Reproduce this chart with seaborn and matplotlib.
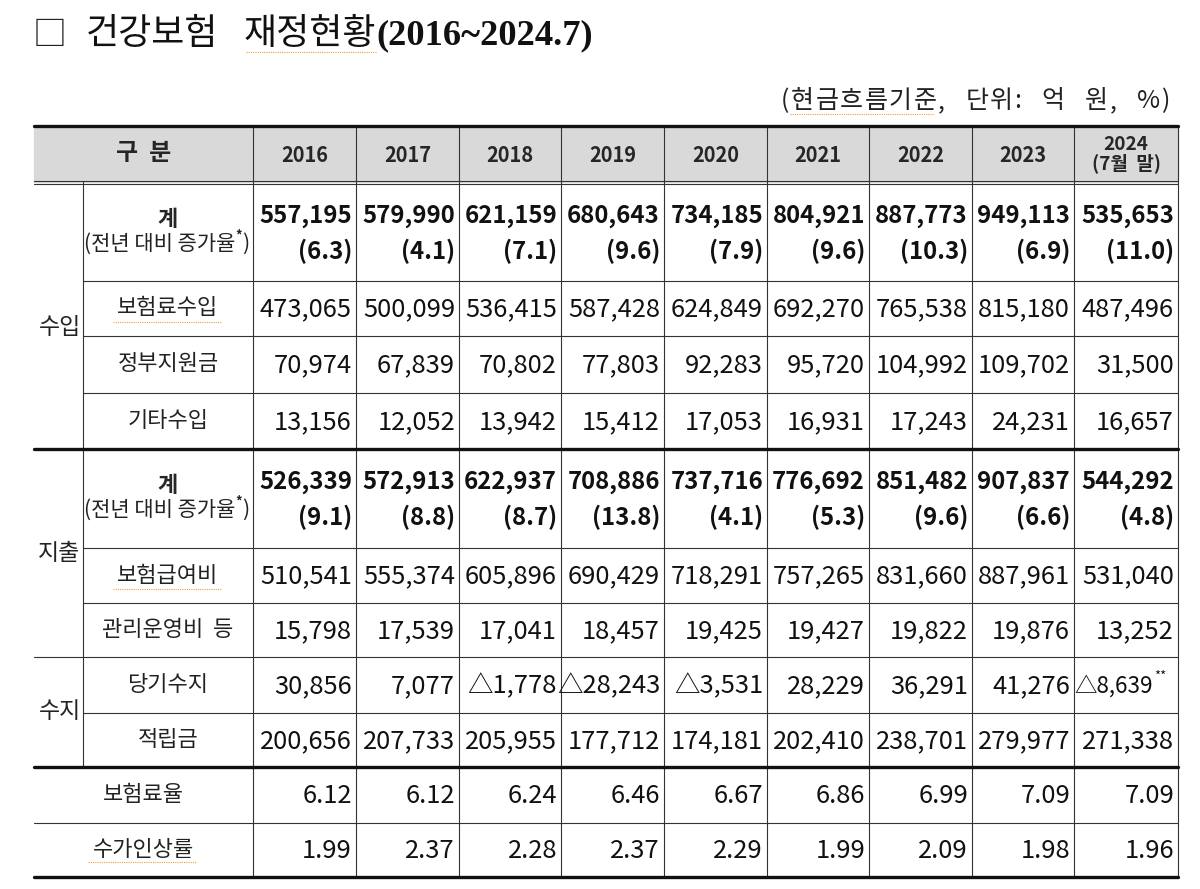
import matplotlib
matplotlib.use("Agg")
import matplotlib.pyplot as plt
import seaborn as sns

# ---- data (억 원, %) ----
years = ["2016", "2017", "2018", "2019", "2020", "2021", "2022", "2023", "2024\n(7월  말)"]
revenue_total = [557195, 579990, 621159, 680643, 734185, 804921, 887773, 949113, 535653]
revenue_growth = [6.3, 4.1, 7.1, 9.6, 7.9, 9.6, 10.3, 6.9, 11.0]
premium_income = [473065, 500099, 536415, 587428, 624849, 692270, 765538, 815180, 487496]
gov_support = [70974, 67839, 70802, 77803, 92283, 95720, 104992, 109702, 31500]
other_income = [13156, 12052, 13942, 15412, 17053, 16931, 17243, 24231, 16657]
expense_total = [526339, 572913, 622937, 708886, 737716, 776692, 851482, 907837, 544292]
expense_growth = [9.1, 8.8, 8.7, 13.8, 4.1, 5.3, 9.6, 6.6, 4.8]
benefits = [510541, 555374, 605896, 690429, 718291, 757265, 831660, 887961, 531040]
admin_costs = [15798, 17539, 17041, 18457, 19425, 19427, 19822, 19876, 13252]
balance = [30856, 7077, -1778, -28243, -3531, 28229, 36291, 41276, -8639]
reserves = [200656, 207733, 205955, 177712, 174181, 202410, 238701, 279977, 271338]
premium_rate = [6.12, 6.12, 6.24, 6.46, 6.67, 6.86, 6.99, 7.09, 7.09]
fee_increase = [1.99, 2.37, 2.28, 2.37, 2.29, 1.99, 2.09, 1.98, 1.96]

sns.set_theme(style="white")
plt.rcParams["font.family"] = ["Noto Sans CJK KR", "DejaVu Sans"]


def pt(px):
    return px * 72 / 100


def fmt_amount(v):
    if v < 0:
        return "△" + f"{-v:,}"
    return f"{v:,}"


fig = plt.figure(figsize=(12, 8.89), dpi=100)
ax = fig.add_axes([0, 0, 1, 1])
ax.set_xlim(0, 1200)
ax.set_ylim(889, 0)
ax.axis("off")
renderer = fig.canvas.get_renderer()


def put(x, y, s, **kw):
    """Draw text and return its right edge in data coords."""
    t = ax.text(x, y, s, **kw)
    bb = t.get_window_extent(renderer)
    return ax.transData.inverted().transform((bb.x1, bb.y0))[0]


def put_spaced(x, y, s, track, **kw):
    """Left-aligned text with extra letter spacing, returns right edge."""
    for ch in s:
        if ch == " ":
            x += 8 + track
            continue
        x = put(x, y, ch, ha="left", **kw) + track
    return x


# layout (pixels)
left, group_x, label_x, right = 34, 83, 253, 1178
col_edges = [253, 356, 459, 561, 664, 767, 869, 972, 1074, 1178]
top, head_bot = 126, 182
line_col = "#333333"
spell = dict(color="#f0a040", lw=0.8, ls=(0, (1, 1)))

# title
put(33, 35, "□", fontsize=pt(34), va="center", ha="left", color="#222222")
put(86, 34, "건강보험", fontsize=pt(36), va="center", ha="left", color="#111111")
x_end = put(244, 34, "재정현황", fontsize=pt(36), va="center", ha="left", color="#111111")
ax.plot([246, x_end], [52, 52], **spell)
put(x_end, 36, "(2016~2024.7)", fontsize=pt(36.5), va="center", ha="left",
    family=["Liberation Serif", "DejaVu Serif"], weight="bold", color="#111111")

# unit note
note_end = put_spaced(781, 101, "(현금흐름기준", 1.5, fontsize=pt(25), va="center",
                      color="#222222")
ax.plot([790, note_end - 4], [114, 114], **spell)
put_spaced(note_end, 101, ",  단위:  억  원,  %)", 1.5, fontsize=pt(25), va="center",
           color="#222222")

# header band
ax.fill_between([left, right], top, head_bot, color="#d9d9d9", zorder=0)
ax.text((left + label_x) / 2, 153, "구  분", fontsize=pt(24), weight="bold",
        ha="center", va="center")
for i, y in enumerate(years):
    cx = (col_edges[i] + col_edges[i + 1]) / 2
    if "\n" in y:
        ax.text(cx, 154, y, fontsize=pt(19), weight="bold", ha="center", va="center",
                linespacing=0.95)
    else:
        ax.text(cx, 155, y, fontsize=pt(20), weight="bold", ha="center", va="center")

# rows: (label, values, top, bottom, growth)
rows = [
    ("계", revenue_total, 183, 281, revenue_growth),
    ("보험료수입", premium_income, 281, 336, None),
    ("정부지원금", gov_support, 336, 393, None),
    ("기타수입", other_income, 393, 449, None),
    ("계", expense_total, 449, 548, expense_growth),
    ("보험급여비", benefits, 548, 603, None),
    ("관리운영비  등", admin_costs, 603, 657, None),
    ("당기수지", balance, 657, 713, None),
    ("적립금", reserves, 713, 767, None),
]
bottom_rows = [
    ("보험료율", premium_rate, 767, 823),
    ("수가인상률", fee_increase, 823, 877),
]

txt = "#111111"
lab = "#222222"
num_px = 25.5
for label, vals, y0, y1, growth in rows:
    lx = (group_x + label_x) / 2
    if growth is not None:
        ax.text(lx, y0 + 37, "계", fontsize=pt(22), ha="center", va="center", weight="bold")
        xe = put(84, y0 + 61, "(전년 대비 증가율", fontsize=pt(21), ha="left",
                 va="center", color=lab)
        xe = put(xe, y0 + 53, "*", fontsize=pt(13), ha="left", va="center", color=lab,
                 weight="bold")
        put(xe, y0 + 61, ")", fontsize=pt(21), ha="left", va="center", color=lab)
        for i, v in enumerate(vals):
            rx = col_edges[i + 1] - 4
            ax.text(rx, y0 + 33, fmt_amount(v), fontsize=pt(24), weight="bold",
                    ha="right", va="center", color=txt)
            ax.text(rx, y0 + 68, f"({growth[i]:.1f})", fontsize=pt(24), weight="bold",
                    ha="right", va="center", color=txt)
    else:
        cy = (y0 + y1) / 2
        ax.text(lx, cy, label, fontsize=pt(22), ha="center", va="center", color=lab)
        for i, v in enumerate(vals):
            rx = col_edges[i + 1] - 4
            s = fmt_amount(v)
            size = pt(num_px)
            if i == len(vals) - 1 and v < 0:
                rx -= 21
                size = pt(22.5)
                ax.text(rx + 1, cy - 9, "**", fontsize=pt(13), ha="left", va="center",
                        color=txt)
            ax.text(rx, cy + 1, s, fontsize=size, ha="right", va="center", color=txt)

for label, vals, y0, y1 in bottom_rows:
    cy = (y0 + y1) / 2
    ax.text((left + label_x) / 2, cy, label, fontsize=pt(22), ha="center", va="center",
            color=lab)
    for i, v in enumerate(vals):
        ax.text(col_edges[i + 1] - 4, cy + 1, f"{v:.2f}", fontsize=pt(num_px), ha="right",
                va="center", color=txt)

# group labels
for name, cy in [("수입", 327), ("지출", 553), ("수지", 712)]:
    ax.text((left + group_x) / 2 + 1, cy, name, fontsize=pt(23), ha="center", va="center",
            color=lab)

# spell-check style underlines
for x0, x1, y in [(113, 221, 322), (113, 221, 589), (88, 197, 862)]:
    ax.plot([x0, x1], [y, y], **spell)

# grid lines
thin = 0.8
for x in col_edges:
    ax.plot([x, x], [top, 877], color=line_col, lw=thin)
ax.plot([group_x, group_x], [head_bot, 767], color=line_col, lw=thin)
for y in [281, 336, 393, 548, 603, 713]:
    ax.plot([group_x, right], [y, y], color=line_col, lw=thin)
for y in [657, 823]:
    ax.plot([left, right], [y, y], color=line_col, lw=thin)
for y in [head_bot - 1.5, head_bot + 1.5]:
    ax.plot([left, right], [y, y], color=line_col, lw=thin)
for y in [top, 449, 767, 877]:
    ax.plot([left, right], [y, y], color="#111111", lw=2.4)

fig.savefig("out.png", dpi=100, facecolor="white")
